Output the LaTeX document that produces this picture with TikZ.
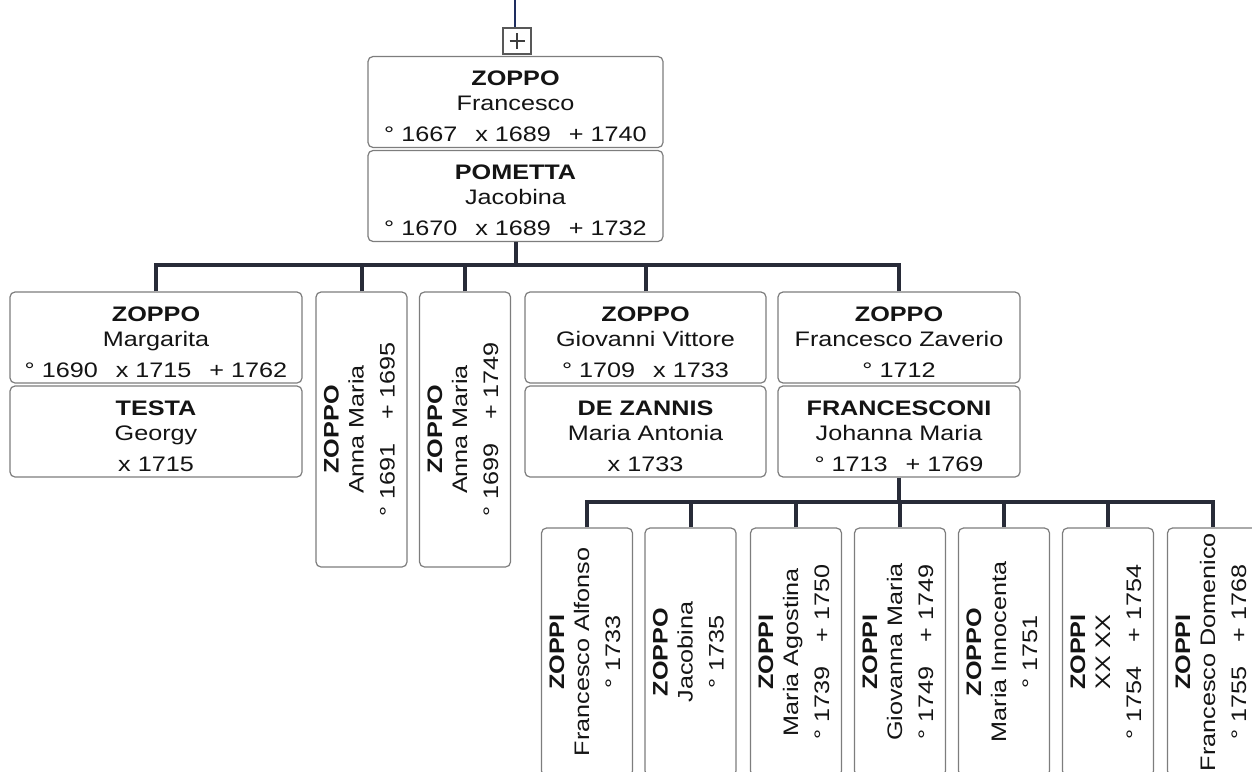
\documentclass[tikz,border=0pt]{standalone}
\usepackage{fontspec}
\setmainfont{Liberation Sans}[FakeStretch=1.2]
\usepackage{graphicx}
\definecolor{colrama}{RGB}{40,43,56}
\definecolor{colarriba}{RGB}{30,45,95}
\definecolor{borde}{RGB}{125,125,125}
\definecolor{texto}{RGB}{20,20,20}
\newcommand{\dgap}{\hspace{9pt}}
\newcommand{\vgap}{\hspace{12pt}}
\newcommand{\pers}[3]{\rule{0pt}{12pt}\textbf{#1}\\#2\\[3pt]#3}
\newcommand{\vpers}[3]{\rotatebox{90}{\begin{tabular}{@{}c@{}}\textbf{#1}\\#2\\[3pt]#3\end{tabular}}}
\begin{document}
\begin{tikzpicture}[x=0.5pt,y=-0.5pt,
    caja/.style={draw=borde, line width=0.6pt, rounded corners=2.5pt, fill=white,
        inner sep=0pt, text=texto, font=\fontsize{10.5}{12.5}\selectfont},
    pareja/.style={caja, align=center, minimum height=45.5pt},
    hijo/.style={caja, minimum width=45.5pt},
    rama/.style={draw=colrama, line width=2pt}]
    \useasboundingbox (0,0) rectangle (1252,771);
    \clip (0,0) rectangle (1252,771);
    % Padres
    \node[draw=borde!70!black, line width=0.6pt, fill=white, minimum width=14pt,
        minimum height=13pt, inner sep=0pt] (mas) at (517,41) {};
    \draw[borde!50!black, line width=0.6pt] (mas.center) ++(-7.5,0) -- ++(15,0);
    \draw[borde!50!black, line width=0.6pt] (mas.center) ++(0,-8) -- ++(0,16);
    \coordinate (arriba) at (515,0);
    \draw[draw=colarriba, line width=1pt] (arriba) -- (arriba |- mas.north);
    \node[pareja, minimum width=147.5pt] (francesco) at (515.5,102)
        {\pers{ZOPPO}{Francesco}{° 1667\dgap x 1689\dgap + 1740}};
    \node[pareja, minimum width=147.5pt] (pometta) at (515.5,196)
        {\pers{POMETTA}{Jacobina}{° 1670\dgap x 1689\dgap + 1732}};
    % Hijos
    \node[pareja, minimum width=146pt] (margarita) at (156,337.5)
        {\pers{ZOPPO}{Margarita}{° 1690\dgap x 1715\dgap + 1762}};
    \node[pareja, minimum width=146pt] (testa) at (156,431.5)
        {\pers{TESTA}{Georgy}{x 1715}};
    \node[hijo, minimum height=137.5pt] (anna1) at (361.5,429.5)
        {\vpers{ZOPPO}{Anna Maria}{° 1691\vgap + 1695}};
    \node[hijo, minimum height=137.5pt] (anna2) at (465,429.5)
        {\vpers{ZOPPO}{Anna Maria}{° 1699\vgap + 1749}};
    \node[pareja, minimum width=120.5pt] (giovanni) at (645.5,337.5)
        {\pers{ZOPPO}{Giovanni Vittore}{° 1709\dgap x 1733}};
    \node[pareja, minimum width=120.5pt] (dezannis) at (645.5,431.5)
        {\pers{DE ZANNIS}{Maria Antonia}{x 1733}};
    \node[pareja, minimum width=121pt] (zaverio) at (899,337.5)
        {\pers{ZOPPO}{Francesco Zaverio}{° 1712}};
    \node[pareja, minimum width=121pt] (francesconi) at (899,431.5)
        {\pers{FRANCESCONI}{Johanna Maria}{° 1713\dgap + 1769}};
    % Nietos
    \node[hijo, minimum height=124pt] (alfonso) at (587,652)
        {\vpers{ZOPPI}{Francesco Alfonso}{° 1733}};
    \node[hijo, minimum height=124pt] (jacobina) at (690.5,652)
        {\vpers{ZOPPO}{Jacobina}{° 1735}};
    \node[hijo, minimum height=124pt] (agostina) at (796,652)
        {\vpers{ZOPPI}{Maria Agostina}{° 1739\vgap + 1750}};
    \node[hijo, minimum height=124pt] (giovanna) at (900,652)
        {\vpers{ZOPPI}{Giovanna Maria}{° 1749\vgap + 1749}};
    \node[hijo, minimum height=124pt] (innocenta) at (1004,652)
        {\vpers{ZOPPO}{Maria Innocenta}{° 1751}};
    \node[hijo, minimum height=124pt] (xxxx) at (1108,652)
        {\vpers{ZOPPI}{XX XX}{° 1754\vgap + 1754}};
    \node[hijo, minimum height=124pt] (domenico) at (1213,652)
        {\vpers{ZOPPI}{Francesco Domenico}{° 1755\vgap + 1768}};
    % Ramas
    \draw[rama] (pometta.south) -- ++(0,23) coordinate (b1);
    \foreach \h in {margarita,anna1,anna2,giovanni,zaverio}
        \draw[rama] (\h.north) |- (b1);
    \draw[rama] (francesconi.south) -- ++(0,24) coordinate (b2);
    \foreach \h in {alfonso,jacobina,agostina,giovanna,innocenta,xxxx,domenico}
        \draw[rama] (\h.north) |- (b2);
\end{tikzpicture}
\end{document}
